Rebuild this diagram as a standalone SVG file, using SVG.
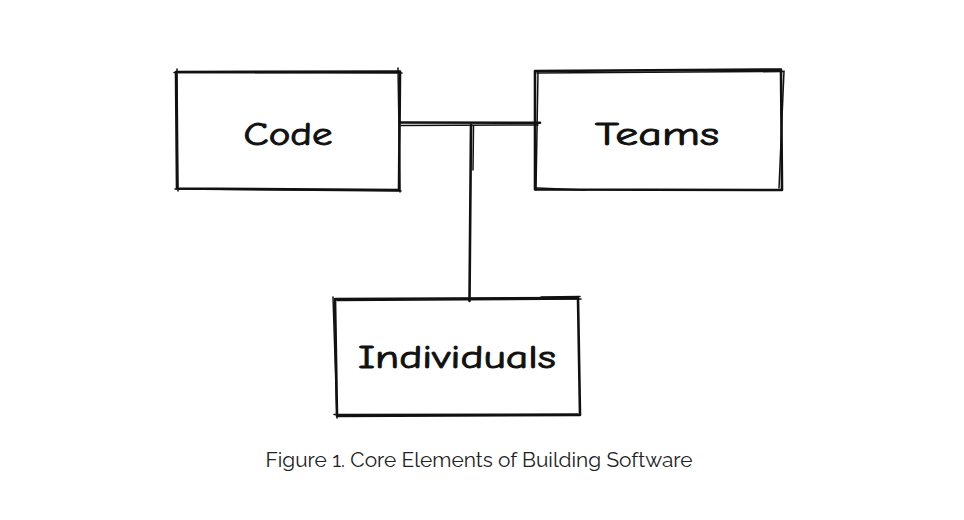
<svg xmlns="http://www.w3.org/2000/svg" width="964" height="520" viewBox="0 0 964 520">
<style>
.s{fill:none;stroke:#111;stroke-width:2.6;stroke-linecap:round;stroke-linejoin:round}
.t{stroke-width:1.5}
.lbl{font-family:"Comic Neue","Comic Sans MS","DejaVu Sans",sans-serif;font-size:32px;fill:#111;stroke:#111;stroke-width:0.9;text-anchor:middle}
.cap{font-family:"Raleway","Lato","Liberation Sans",sans-serif;font-size:20px;fill:#222;text-anchor:middle}
</style>
<rect width="964" height="520" fill="#fff"/>
<g id="connectors">
<path class="s" d="M400 122.5 L540 122.8"/>
<path class="s t" d="M401 125.5 L538 125"/>
<path class="s" d="M471 125 L469.5 301"/>
<path class="s t" d="M473.5 126 L473 170"/>
</g>
<g id="code">
<path class="s" d="M176 72 L400 71.5 L399 190 L177 188.5 Z"/>
<path class="s t" d="M177 69 L178 191 M174 72.5 L402 73 M398 68 L400 192 M175 189 L401 191"/>
<text class="lbl" x="288" y="145" textLength="89" lengthAdjust="spacingAndGlyphs">Code</text>
</g>
<g id="teams">
<path class="s" d="M535 71 L781 69.5 L782 190 L535 189.5 Z"/>
<path class="s t" d="M537 73 L783 71.5 M538 72 L536 190 M784 71 L779 188 M537 188 L586 190"/>
<text class="lbl" x="657" y="145" textLength="124" lengthAdjust="spacingAndGlyphs">Teams</text>
</g>
<g id="individuals">
<path class="s" d="M335 299 L578 298 L580 415 L337 416 Z"/>
<path class="s t" d="M333 297 L337 418 M337 300.5 L581 299 M541 297 L580 296.5 M334 414.5 L578 414"/>
<text class="lbl" x="457" y="368" textLength="198" lengthAdjust="spacingAndGlyphs">Individuals</text>
</g>
<text class="cap" x="479" y="467" textLength="427" lengthAdjust="spacingAndGlyphs">Figure 1. Core Elements of Building Software</text>
</svg>
